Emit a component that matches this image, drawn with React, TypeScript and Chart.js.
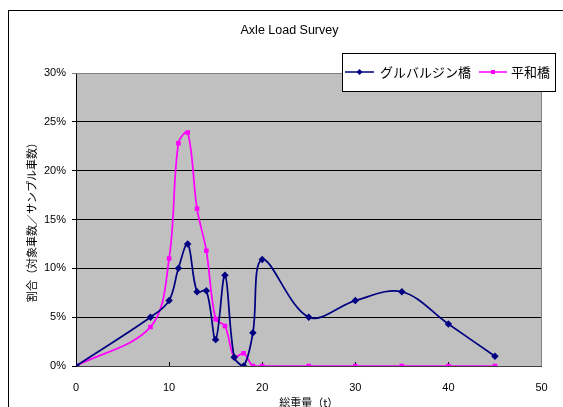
import React, { useEffect, useRef } from "react";
import { Chart, registerables } from "chart.js";

Chart.register(...registerables);

const chartTitle = "Axle Load Survey";
const xAxisTitle = "総重量（t）";
const yAxisTitle = "割合（対象車数／サンプル車数）";
const seriesNames = ["グルバルジン橋", "平和橋"];
const seriesColors = ["#000080", "#FF00FF"];

const gurXs = [0, 8, 10, 11, 12, 13, 14, 15, 16, 17, 18, 19, 20, 25, 30, 35, 40, 45];
const gurVals = [0, 5.0, 6.7, 10.0, 12.5, 7.6, 7.7, 2.7, 9.3, 0.9, 0, 3.4, 10.9, 5.0, 6.7, 7.6, 4.3, 1.0];
const heiXs = [0, 8, 10, 11, 12, 13, 14, 15, 16, 17, 18, 19, 20, 25, 30, 35, 40, 45];
const heiVals = [0, 4.0, 11.0, 22.8, 23.9, 16.1, 11.8, 4.8, 4.1, 0.9, 1.3, 0, 0, 0, 0, 0, 0, 0];

const xTicks = [0, 10, 20, 30, 40, 50];
const yTicks = [0, 5, 10, 15, 20, 25, 30];

const FONT = "'Liberation Sans', 'Noto Sans CJK JP', sans-serif";
const JFONT = "'Noto Sans CJK JP', 'Liberation Sans', sans-serif";

const framePlugin = {
  id: "frame",
  beforeDraw(chart: any) {
    const { ctx, chartArea } = chart;
    ctx.save();
    ctx.fillStyle = "#ffffff";
    ctx.fillRect(0, 0, chart.width, chart.height);
    ctx.strokeStyle = "#000000";
    ctx.lineWidth = 1;
    ctx.strokeRect(8.5, 10.5, chart.width + 20, chart.height + 20);
    ctx.fillStyle = "#C0C0C0";
    ctx.fillRect(chartArea.left, chartArea.top, chartArea.right - chartArea.left, chartArea.bottom - chartArea.top);
    ctx.restore();
  },
  beforeDatasetsDraw(chart: any) {
    const { ctx, chartArea } = chart;
    ctx.save();
    ctx.strokeStyle = "#808080";
    ctx.lineWidth = 1;
    ctx.beginPath();
    ctx.moveTo(chartArea.left, Math.round(chartArea.top) + 0.5);
    ctx.lineTo(Math.round(chartArea.right) - 0.5, Math.round(chartArea.top) + 0.5);
    ctx.lineTo(Math.round(chartArea.right) - 0.5, chartArea.bottom);
    ctx.stroke();
    ctx.restore();
  },
};

const legendPlugin = {
  id: "boxLegend",
  afterDraw(chart: any) {
    const { ctx } = chart;
    const bx = 342, by = 53, bw = 213, bh = 38;
    ctx.save();
    ctx.fillStyle = "#ffffff";
    ctx.fillRect(bx, by, bw, bh);
    ctx.strokeStyle = "#000000";
    ctx.lineWidth = 1;
    ctx.strokeRect(bx + 0.5, by + 0.5, bw, bh);
    const cy = 72;
    const entries = [
      { x0: 345, x1: 374, tx: 380, style: "diamond" },
      { x0: 479, x1: 507, tx: 511, style: "square" },
    ];
    chart.data.datasets.forEach((ds: any, i: number) => {
      const e = entries[i];
      ctx.strokeStyle = ds.borderColor;
      ctx.lineWidth = 1.5;
      ctx.beginPath();
      ctx.moveTo(e.x0, cy);
      ctx.lineTo(e.x1, cy);
      ctx.stroke();
      const mx = (e.x0 + e.x1) / 2;
      ctx.fillStyle = ds.borderColor;
      ctx.beginPath();
      if (e.style === "diamond") {
        ctx.moveTo(mx, cy - 3);
        ctx.lineTo(mx + 3, cy);
        ctx.lineTo(mx, cy + 3);
        ctx.lineTo(mx - 3, cy);
        ctx.closePath();
      } else {
        ctx.rect(mx - 2, cy - 2, 4, 4);
      }
      ctx.fill();
      ctx.fillStyle = "#000000";
      ctx.font = `13px ${JFONT}`;
      ctx.textBaseline = "middle";
      ctx.textAlign = "left";
      ctx.fillText(ds.label, e.tx, cy);
    });
    ctx.restore();
  },
};

export default function App() {
  const ref = useRef<HTMLCanvasElement>(null);

  useEffect(() => {
    if (!ref.current) return;
    const chart = new Chart(ref.current, {
      type: "line",
      data: {
        datasets: [
          {
            label: seriesNames[0],
            data: gurXs.map((x, i) => ({ x, y: gurVals[i] })),
            borderColor: seriesColors[0],
            backgroundColor: seriesColors[0],
            borderWidth: 1.75,
            pointStyle: "rectRot",
            pointRadius: 2.5,
            tension: 0.35,
          },
          {
            label: seriesNames[1],
            data: heiXs.map((x, i) => ({ x, y: heiVals[i] })),
            borderColor: seriesColors[1],
            backgroundColor: seriesColors[1],
            borderWidth: 1.75,
            pointStyle: "rect",
            pointRadius: 2,
            tension: 0.35,
          },
        ],
      },
      options: {
        responsive: false,
        animation: false,
        layout: { padding: { left: 37.5, right: 21.5, top: 0, bottom: 0 } },
        font: { family: FONT },
        plugins: {
          legend: { display: false },
          tooltip: { enabled: false },
          title: {
            display: true,
            text: chartTitle,
            color: "#000000",
            font: { family: FONT, size: 12.5, weight: "normal" },
            padding: { top: 23.5, bottom: 34.5 },
          },
        },
        scales: {
          x: {
            type: "linear",
            min: 0,
            max: 50,
            afterBuildTicks: (s: any) => {
              s.ticks = xTicks.map((v) => ({ value: v }));
            },
            afterFit: (s: any) => {
              s.height = 41;
              s.paddingLeft = 0;
              s.paddingRight = 0;
            },
            ticks: {
              color: "#000000",
              font: { family: FONT, size: 11 },
              padding: 19.4,
              maxRotation: 0,
              callback: (v: any) => String(v),
            },
            grid: {
              drawOnChartArea: false,
              drawTicks: true,
              tickLength: -4,
              color: "#000000",
            },
            border: { color: "#404040", width: 1 },
            title: {
              display: true,
              text: xAxisTitle,
              color: "#000000",
              font: { family: JFONT, size: 11 },
              padding: { top: 0, bottom: -2.6 },
            },
          },
          y: {
            type: "linear",
            min: 0,
            max: 30,
            afterBuildTicks: (s: any) => {
              s.ticks = yTicks.map((v) => ({ value: v }));
            },
            afterFit: (s: any) => {
              s.width = 38.5;
            },
            ticks: {
              color: "#000000",
              font: { family: FONT, size: 11 },
              padding: 6,
              callback: (v: any) => `${v}%`,
            },
            grid: {
              color: (c: any) => (c.tick && c.tick.value === 30 ? "#808080" : "#000000"),
              lineWidth: 1,
              tickLength: 4,
              drawTicks: true,
            },
            border: { color: "#000000", width: 1 },
            title: {
              display: true,
              text: yAxisTitle,
              color: "#000000",
              font: { family: JFONT, size: 11 },
              padding: { top: -12.1, bottom: 0 },
            },
          },
        },
      },
      plugins: [framePlugin, legendPlugin],
    });
    return () => chart.destroy();
  }, []);

  return (
    <div style={{ position: "absolute", left: 0, top: 0, width: 563, height: 407 }}>
      <canvas ref={ref} width={563} height={407} style={{ display: "block" }} />
    </div>
  );
}
